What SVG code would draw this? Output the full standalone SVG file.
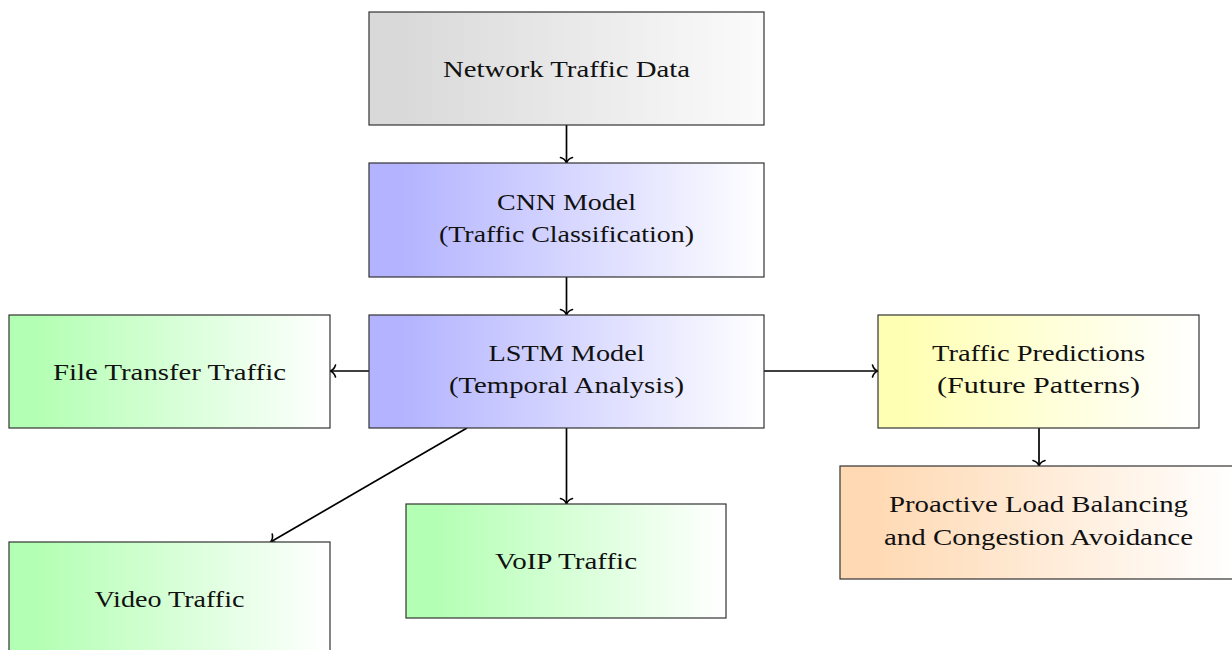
<svg xmlns="http://www.w3.org/2000/svg" width="1232" height="650" viewBox="0 0 1232 650">
  <style>
    .box { stroke: #333; stroke-width: 1.2; }
    .lbl { font-family: "Liberation Serif", "DejaVu Serif", serif; font-size: 24px; fill: #111; text-anchor: middle; }
    .edge { stroke: #000; stroke-width: 1.7; fill: none; marker-end: url(#to); }
  </style>
  <defs>
    <marker id="to" markerUnits="userSpaceOnUse" markerWidth="16" markerHeight="16" viewBox="-8 -8 16 16" refX="0" refY="0" orient="auto" overflow="visible">
      <path d="M-5.5,-6 C-4.5,-2.5 -1.8,-0.6 0,0 C-1.8,0.6 -4.5,2.5 -5.5,6" fill="none" stroke="#000" stroke-width="1.6" stroke-linecap="round"/>
    </marker>
    <linearGradient id="gGray" x1="0" y1="0" x2="1" y2="0">
      <stop offset="0.08" stop-color="#d9d9d9"/>
      <stop offset="1" stop-color="#fbfbfb"/>
    </linearGradient>
    <linearGradient id="gBlue" x1="0" y1="0" x2="1" y2="0">
      <stop offset="0.08" stop-color="#b3b3ff"/>
      <stop offset="1" stop-color="#ffffff"/>
    </linearGradient>
    <linearGradient id="gGreen" x1="0" y1="0" x2="1" y2="0">
      <stop offset="0.08" stop-color="#b3ffb3"/>
      <stop offset="1" stop-color="#ffffff"/>
    </linearGradient>
    <linearGradient id="gYellow" x1="0" y1="0" x2="1" y2="0">
      <stop offset="0.08" stop-color="#ffffb3"/>
      <stop offset="1" stop-color="#ffffff"/>
    </linearGradient>
    <linearGradient id="gOrange" x1="0" y1="0" x2="1" y2="0">
      <stop offset="0.08" stop-color="#ffd9b3"/>
      <stop offset="1" stop-color="#ffffff"/>
    </linearGradient>
  </defs>

  <rect width="1232" height="650" fill="#fff"/>

  <g id="connectors">
    <line class="edge" x1="566.5" y1="125" x2="566.5" y2="163"/>
    <line class="edge" x1="566.5" y1="277" x2="566.5" y2="315"/>
    <line class="edge" x1="369" y1="371" x2="330" y2="371"/>
    <line class="edge" x1="764" y1="371" x2="878" y2="371"/>
    <line class="edge" x1="467" y1="428" x2="270.5" y2="542"/>
    <line class="edge" x1="566.5" y1="428" x2="566.5" y2="504"/>
    <line class="edge" x1="1039" y1="428" x2="1039" y2="466"/>
  </g>

  <g id="network-traffic-data">
    <rect class="box" x="369" y="12" width="395" height="113" fill="url(#gGray)"/>
    <text class="lbl" x="566.5" y="77" textLength="247" lengthAdjust="spacingAndGlyphs">Network Traffic Data</text>
  </g>

  <g id="cnn-model">
    <rect class="box" x="369" y="163" width="395" height="114" fill="url(#gBlue)"/>
    <text class="lbl" x="566.5" y="210" textLength="139" lengthAdjust="spacingAndGlyphs">CNN Model</text>
    <text class="lbl" x="566.5" y="242" textLength="255" lengthAdjust="spacingAndGlyphs">(Traffic Classification)</text>
  </g>

  <g id="lstm-model">
    <rect class="box" x="369" y="315" width="395" height="113" fill="url(#gBlue)"/>
    <text class="lbl" x="566.5" y="361" textLength="156" lengthAdjust="spacingAndGlyphs">LSTM Model</text>
    <text class="lbl" x="566.5" y="393" textLength="235" lengthAdjust="spacingAndGlyphs">(Temporal Analysis)</text>
  </g>

  <g id="file-transfer-traffic">
    <rect class="box" x="9" y="315" width="321" height="113" fill="url(#gGreen)"/>
    <text class="lbl" x="169.5" y="380" textLength="233" lengthAdjust="spacingAndGlyphs">File Transfer Traffic</text>
  </g>

  <g id="traffic-predictions">
    <rect class="box" x="878" y="315" width="321" height="113" fill="url(#gYellow)"/>
    <text class="lbl" x="1038.5" y="361" textLength="213" lengthAdjust="spacingAndGlyphs">Traffic Predictions</text>
    <text class="lbl" x="1038.5" y="393" textLength="203" lengthAdjust="spacingAndGlyphs">(Future Patterns)</text>
  </g>

  <g id="load-balancing">
    <rect class="box" x="840" y="466" width="397" height="113" fill="url(#gOrange)"/>
    <text class="lbl" x="1038.5" y="512" textLength="299" lengthAdjust="spacingAndGlyphs">Proactive Load Balancing</text>
    <text class="lbl" x="1038.5" y="545" textLength="309" lengthAdjust="spacingAndGlyphs">and Congestion Avoidance</text>
  </g>

  <g id="voip-traffic">
    <rect class="box" x="406" y="504" width="320" height="114" fill="url(#gGreen)"/>
    <text class="lbl" x="566" y="569" textLength="142" lengthAdjust="spacingAndGlyphs">VoIP Traffic</text>
  </g>

  <g id="video-traffic">
    <rect class="box" x="9" y="542" width="321" height="113" fill="url(#gGreen)"/>
    <text class="lbl" x="169.5" y="607" textLength="150" lengthAdjust="spacingAndGlyphs">Video Traffic</text>
  </g>
</svg>
